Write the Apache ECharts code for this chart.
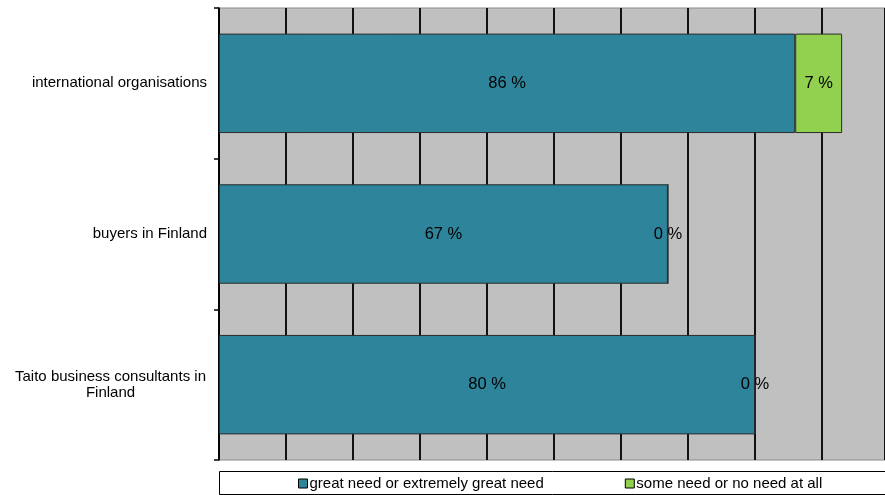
<!DOCTYPE html>
<html>
<head>
<meta charset="utf-8">
<script src="https://cdn.jsdelivr.net/npm/echarts@6/dist/echarts.min.js"></script>
<style>
  html, body { margin: 0; padding: 0; background: #fff; }
  #chart { width: 885px; height: 495px; }
</style>
</head>
<body>
<div id="chart"></div>
<script>
// Survey groups, top to bottom
const groups = ['international organisations', 'buyers in Finland', 'Taito business consultants in\nFinland'];
const seriesNames = ['great need or extremely great need', 'some need or no need at all'];
const greatNeed = [86, 67, 80];
const someNeed = [7, 0, 0];

const FONT = 'Liberation Sans, Arial, sans-serif';

const chart = echarts.init(document.getElementById('chart'), null, { renderer: 'canvas' });

function barSeries(name, data, color) {
  return {
    name: name,
    type: 'bar',
    stack: 'total',
    data: data,
    barCategoryGap: '34%',
    itemStyle: { color: color, borderColor: '#2b2b2b', borderWidth: 1 },
    label: {
      show: true,
      position: 'inside',
      formatter: '{c} %',
      color: '#000',
      fontFamily: FONT,
      fontSize: 16.5
    },
    emphasis: { disabled: true }
  };
}

// Multi-line group names are centred line by line; single lines sit flush right
function groupLabel(value) {
  if (value.indexOf('\n') >= 0) {
    return value.split('\n').map(s => '{c|' + s + '}').join('\n');
  }
  return value;
}

chart.setOption({
  animation: false,
  backgroundColor: '#fff',
  grid: {
    left: 219, right: 0, top: 8, bottom: 35,
    show: true,
    backgroundColor: '#C0C0C0',
    borderColor: '#8a8a8a',
    borderWidth: 1
  },
  xAxis: {
    type: 'value',
    // the 100 % end runs just past the right edge of the canvas
    min: 0, max: 99.4, interval: 10,
    axisLine: { show: false },
    axisTick: { show: false },
    axisLabel: { show: false },
    splitLine: { show: true, lineStyle: { color: '#111', width: 2 } }
  },
  yAxis: {
    type: 'category',
    inverse: true,
    data: groups,
    axisLine: { show: true, lineStyle: { color: '#000', width: 1.5 } },
    axisTick: { show: true, alignWithLabel: false, length: 5, lineStyle: { color: '#000', width: 1.5 } },
    axisLabel: {
      color: '#000',
      fontFamily: FONT,
      fontSize: 15,
      margin: 12,
      align: 'right',
      lineHeight: 16,
      formatter: groupLabel,
      rich: {
        c: { width: 193, align: 'center', fontFamily: FONT, fontSize: 15, lineHeight: 16, color: '#000' }
      }
    }
  },
  legend: {
    left: 298,
    top: 476,
    padding: 0,
    itemWidth: 9,
    itemHeight: 9,
    itemGap: 81,
    icon: 'rect',
    itemStyle: { borderColor: '#000', borderWidth: 1 },
    textStyle: { color: '#000', fontFamily: FONT, fontSize: 15, padding: [0, 0, 0, -3] },
    data: seriesNames
  },
  graphic: [{
    type: 'rect',
    z: -1,
    shape: { x: 219.5, y: 471.5, width: 680, height: 23 },
    style: { fill: '#fff', stroke: '#000', lineWidth: 1 }
  }],
  series: [
    barSeries(seriesNames[0], greatNeed, '#2E849B'),
    barSeries(seriesNames[1], someNeed, '#92D050')
  ]
});
</script>
</body>
</html>
